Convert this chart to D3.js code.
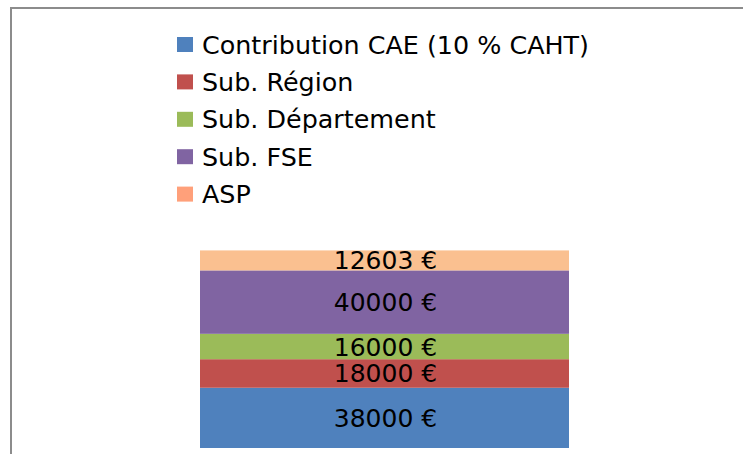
<!DOCTYPE html>
<html>
<head>
<meta charset="utf-8">
<script src="https://cdn.jsdelivr.net/npm/d3@7"></script>
<style>
  body { margin: 0; background: #fff; }
  svg { display: block; font-family: "DejaVu Sans", sans-serif; }
</style>
</head>
<body>
<svg id="chart" width="743" height="454"></svg>
<script>
var categories = ["Financement"];
var seriesNames = ["Contribution CAE (10 % CAHT)", "Sub. Région", "Sub. Département", "Sub. FSE", "ASP"];
var seriesValues = [38000, 18000, 16000, 40000, 12603];
var barColors = ["#4f81bd", "#c0504d", "#9bbb59", "#8064a2", "#fac090"];
var legendColors = ["#4f81bd", "#c0504d", "#9bbb59", "#8064a2", "#ffa07a"];

var svg = d3.select("#chart");

// frame of the chart area (only top and left visible)
svg.append("path")
    .attr("d", "M11,454 V8 H743")
    .attr("fill", "none")
    .attr("stroke", "#8c8c8c")
    .attr("stroke-width", 2);

var yScale = d3.scaleLinear()
    .domain([0, 140000])
    .range([448, 226]);
var xScale = d3.scaleBand()
    .domain(categories)
    .range([200, 569]);

// stack the series
var row = {cat: categories[0]};
seriesNames.forEach((s, i) => { row[s] = seriesValues[i]; });
var stack = d3.stack().keys(seriesNames)([row]);

var segs = svg.append("g").selectAll("g").data(stack).enter()
    .append("g")
    .attr("fill", (d, i) => barColors[i]);

segs.append("rect")
    .attr("x", xScale(categories[0]))
    .attr("width", xScale.bandwidth())
    .attr("y", d => yScale(d[0][1]))
    .attr("height", d => yScale(d[0][0]) - yScale(d[0][1]));

segs.append("text")
    .attr("x", xScale(categories[0]) + xScale.bandwidth() / 2 + 1)
    .attr("y", d => (yScale(d[0][0]) + yScale(d[0][1])) / 2)
    .attr("dy", "0.36em")
    .attr("text-anchor", "middle")
    .attr("fill", "#000")
    .style("font-size", "25px")
    .text((d, i) => seriesValues[i] + " €");

// legend
var legend = svg.append("g").attr("transform", "translate(177,44.5)");
var items = legend.selectAll("g").data(seriesNames).enter()
    .append("g")
    .attr("transform", (d, i) => "translate(0," + (i * 37.4) + ")");
items.append("rect")
    .attr("x", 0).attr("y", -7.5)
    .attr("width", 16).attr("height", 15)
    .attr("fill", (d, i) => legendColors[i]);
items.append("text")
    .attr("x", 25)
    .attr("dy", "0.36em")
    .style("font-size", "25.4px")
    .attr("fill", "#000")
    .text(d => d);
</script>
</body>
</html>
